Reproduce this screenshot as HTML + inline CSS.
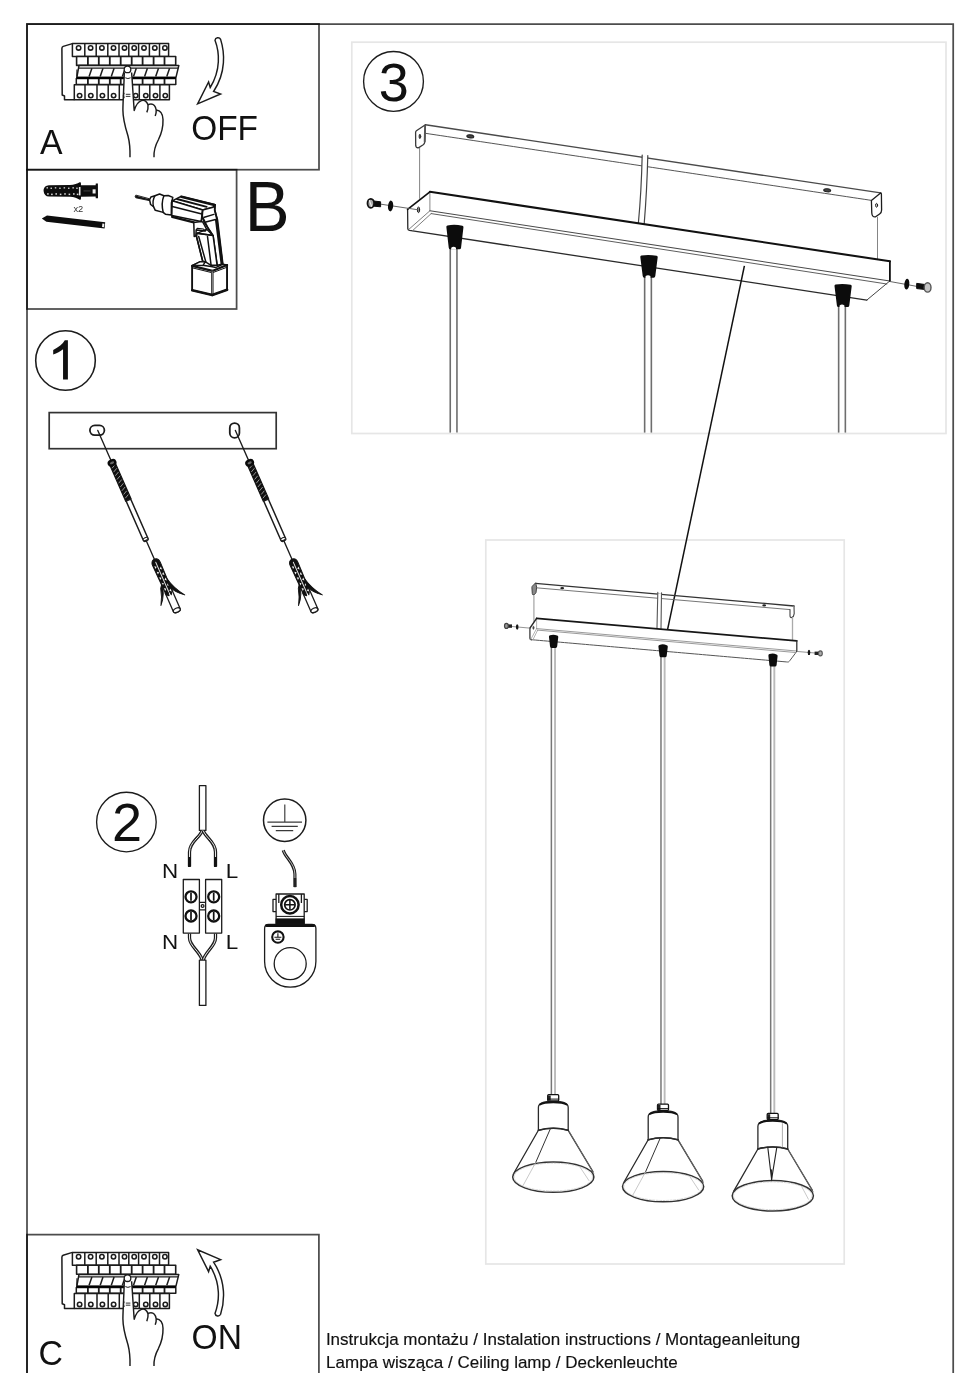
<!DOCTYPE html>
<html><head><meta charset="utf-8"><title>Instrukcja</title>
<style>html,body{margin:0;padding:0;background:#fff}svg{display:block;will-change:transform}text{font-family:"Liberation Sans",sans-serif}</style></head>
<body>
<svg width="970" height="1373" viewBox="0 0 970 1373">
<rect width="970" height="1373" fill="#fff"/>
<g fill="none" stroke="#000" stroke-opacity="0.7" stroke-width="1.75">
<path d="M27 1380V24H953.2V1380"/>
<rect x="27" y="24" width="292" height="145.7"/>
<rect x="27" y="169.7" width="209.6" height="139.3"/>
<path d="M27 1380V1234.6H318.9V1380"/>
</g>
<g fill="none" stroke="#e6e6e6" stroke-width="1.7">
<rect x="351.8" y="42.2" width="594.2" height="391.3"/>
<rect x="485.8" y="540" width="358.4" height="724"/>
</g>
<g transform="translate(0,0)" fill="#fff" stroke="#1c1c1c" stroke-width="1.5" stroke-linejoin="round">
<path d="M72.4 43.6 L63.2 46.4 Q61.9 46.9 61.9 48.4 L62.2 95 L64.5 96 V99.7 H74.4 V43.6Z" stroke="none"/>
<path d="M72.4 43.6 L63.2 46.4 Q61.9 46.9 61.9 48.4 L62.2 95 L64.5 96 V99.7 H74.4" fill="none"/>
<rect x="72.4" y="43.6" width="96.2" height="12.9"/>
<path d="M84.8 43.6V56.5"/>
<path d="M96.2 43.6V56.5"/>
<path d="M107.8 43.6V56.5"/>
<path d="M119 43.6V56.5"/>
<path d="M128.8 43.6V56.5"/>
<path d="M138.6 43.6V56.5"/>
<path d="M149.4 43.6V56.5"/>
<path d="M159.5 43.6V56.5"/>
<circle cx="78.6" cy="47.9" r="2.2" stroke-width="1.55"/>
<circle cx="90.6" cy="47.9" r="2.2" stroke-width="1.55"/>
<circle cx="101.9" cy="47.9" r="2.2" stroke-width="1.55"/>
<circle cx="113.5" cy="47.9" r="2.2" stroke-width="1.55"/>
<circle cx="124.5" cy="47.9" r="2.2" stroke-width="1.55"/>
<circle cx="134.2" cy="47.9" r="2.2" stroke-width="1.55"/>
<circle cx="144" cy="47.9" r="2.2" stroke-width="1.55"/>
<circle cx="154.8" cy="47.9" r="2.2" stroke-width="1.55"/>
<circle cx="164.9" cy="47.9" r="2.2" stroke-width="1.55"/>
<rect x="76.6" y="56.5" width="99.1" height="8.9" stroke-width="1.6"/>
<path d="M87.9 56.5V65.4" stroke-width="1.8"/>
<path d="M98.8 56.5V65.4" stroke-width="1.8"/>
<path d="M109.8 56.5V65.4" stroke-width="1.8"/>
<path d="M120.7 56.5V65.4" stroke-width="1.8"/>
<path d="M131.7 56.5V65.4" stroke-width="1.8"/>
<path d="M142.6 56.5V65.4" stroke-width="1.8"/>
<path d="M153.6 56.5V65.4" stroke-width="1.8"/>
<path d="M164.5 56.5V65.4" stroke-width="1.8"/>
<rect x="76.3" y="78.6" width="99.5" height="5.9" stroke-width="1.5"/>
<path d="M87.9 78.6V84.5" stroke-width="1.8"/>
<path d="M98.8 78.6V84.5" stroke-width="1.8"/>
<path d="M109.8 78.6V84.5" stroke-width="1.8"/>
<path d="M120.7 78.6V84.5" stroke-width="1.8"/>
<path d="M131.7 78.6V84.5" stroke-width="1.8"/>
<path d="M142.6 78.6V84.5" stroke-width="1.8"/>
<path d="M153.6 78.6V84.5" stroke-width="1.8"/>
<path d="M164.5 78.6V84.5" stroke-width="1.8"/>
<path d="M79 65.6H178.8L175.9 77.6H76.8Z" stroke-width="1.5"/>
<path d="M78.5 68.1H178.3" stroke-width="1.4"/>
<path d="M91.9 68.2L89.1 76.5" stroke-width="1.5"/>
<path d="M103.0 68.2L100.2 76.5" stroke-width="1.5"/>
<path d="M114.1 68.2L111.3 76.5" stroke-width="1.5"/>
<path d="M125.2 68.2L122.4 76.5" stroke-width="1.5"/>
<path d="M136.3 68.2L133.5 76.5" stroke-width="1.5"/>
<path d="M147.4 68.2L144.6 76.5" stroke-width="1.5"/>
<path d="M158.5 68.2L155.7 76.5" stroke-width="1.5"/>
<path d="M169.6 68.2L166.8 76.5" stroke-width="1.5"/>
<path d="M77 69.5L76.8 76.5" stroke-width="1.2"/>
<path d="M76.5 77.8H175.8" stroke-width="2.3" stroke="#000"/>
<rect x="74.3" y="84.8" width="95.1" height="14.9"/>
<path d="M85 84.8V99.7"/>
<path d="M97 84.8V99.7"/>
<path d="M108.2 84.8V99.7"/>
<path d="M119.3 84.8V99.7"/>
<path d="M129.8 84.8V99.7"/>
<path d="M139.3 84.8V99.7"/>
<path d="M149.8 84.8V99.7"/>
<path d="M159.9 84.8V99.7"/>
<circle cx="79.6" cy="95.6" r="2.2" stroke-width="1.55"/>
<circle cx="90.8" cy="95.6" r="2.2" stroke-width="1.55"/>
<circle cx="102.4" cy="95.6" r="2.2" stroke-width="1.55"/>
<circle cx="113.6" cy="95.6" r="2.2" stroke-width="1.55"/>
<circle cx="135.7" cy="95.6" r="2.2" stroke-width="1.55"/>
<circle cx="145.8" cy="95.6" r="2.2" stroke-width="1.55"/>
<circle cx="155.5" cy="95.6" r="2.2" stroke-width="1.55"/>
<circle cx="165.3" cy="95.6" r="2.2" stroke-width="1.55"/>
<path d="M124.3 72.5 C124 85 123 100 122.9 110 C122.9 120 125.5 128 128 136 C129.8 143 130.2 150 130 157.2 L154 157.2 C153.6 150 155.5 145 158.5 139.5 C162 132.5 163.2 126 163 119.5 C162.9 114 160.5 110.6 156.2 110 C155.5 106 153.5 103.8 150.5 104 C149.6 104 148.8 104.3 148 104.9 C147 101.5 144.5 99.6 141.5 100.6 C138.5 101.6 135.5 106 134.2 110.5 C133.4 100 132.6 85 131.6 72.5 Z" stroke="none"/>
<path d="M124.3 72.5 C124 85 123 100 122.9 110 C122.9 120 125.5 128 128 136 C129.8 143 130.2 150 130 157.2" fill="none" stroke-width="1.45"/>
<path d="M131.6 72.5 C132.6 85 133.4 100 134.2 110.5 C135.5 106 138.5 101.6 141.5 100.6 C144.5 99.6 147 101.5 148 104.9 C148.3 107.5 147.8 110 146.8 112.4" fill="none" stroke-width="1.45"/>
<path d="M148 104.9 C148.8 104.3 149.6 104 150.5 104 C153.5 103.8 155.5 106 156.2 110 C156.4 112.5 156 114 155.2 116" fill="none" stroke-width="1.45"/>
<path d="M156.2 110 C160.5 110.6 162.9 114 163 119.5 C163.2 126 162 132.5 158.5 139.5 C155.5 145 153.6 150 154 157.2" fill="none" stroke-width="1.45"/>
<path d="M125.3 77.8 Q127.8 79.3 130.6 77.8" fill="none" stroke-width="1"/>
<path d="M125.8 94.3H130.4M125.8 96.4H130.4" stroke-width="0.9"/>
<path d="M124.2 92.7 Q122.6 95.4 124.2 98.3" fill="none" stroke-width="1.1"/>
<circle cx="127.5" cy="69.4" r="3.3" stroke-width="1.3"/>
</g>
<g transform="translate(0,1208.8)" fill="#fff" stroke="#1c1c1c" stroke-width="1.5" stroke-linejoin="round">
<path d="M72.4 43.6 L63.2 46.4 Q61.9 46.9 61.9 48.4 L62.2 95 L64.5 96 V99.7 H74.4 V43.6Z" stroke="none"/>
<path d="M72.4 43.6 L63.2 46.4 Q61.9 46.9 61.9 48.4 L62.2 95 L64.5 96 V99.7 H74.4" fill="none"/>
<rect x="72.4" y="43.6" width="96.2" height="12.9"/>
<path d="M84.8 43.6V56.5"/>
<path d="M96.2 43.6V56.5"/>
<path d="M107.8 43.6V56.5"/>
<path d="M119 43.6V56.5"/>
<path d="M128.8 43.6V56.5"/>
<path d="M138.6 43.6V56.5"/>
<path d="M149.4 43.6V56.5"/>
<path d="M159.5 43.6V56.5"/>
<circle cx="78.6" cy="47.9" r="2.2" stroke-width="1.55"/>
<circle cx="90.6" cy="47.9" r="2.2" stroke-width="1.55"/>
<circle cx="101.9" cy="47.9" r="2.2" stroke-width="1.55"/>
<circle cx="113.5" cy="47.9" r="2.2" stroke-width="1.55"/>
<circle cx="124.5" cy="47.9" r="2.2" stroke-width="1.55"/>
<circle cx="134.2" cy="47.9" r="2.2" stroke-width="1.55"/>
<circle cx="144" cy="47.9" r="2.2" stroke-width="1.55"/>
<circle cx="154.8" cy="47.9" r="2.2" stroke-width="1.55"/>
<circle cx="164.9" cy="47.9" r="2.2" stroke-width="1.55"/>
<rect x="76.6" y="56.5" width="99.1" height="8.9" stroke-width="1.6"/>
<path d="M87.9 56.5V65.4" stroke-width="1.8"/>
<path d="M98.8 56.5V65.4" stroke-width="1.8"/>
<path d="M109.8 56.5V65.4" stroke-width="1.8"/>
<path d="M120.7 56.5V65.4" stroke-width="1.8"/>
<path d="M131.7 56.5V65.4" stroke-width="1.8"/>
<path d="M142.6 56.5V65.4" stroke-width="1.8"/>
<path d="M153.6 56.5V65.4" stroke-width="1.8"/>
<path d="M164.5 56.5V65.4" stroke-width="1.8"/>
<rect x="76.3" y="78.6" width="99.5" height="5.9" stroke-width="1.5"/>
<path d="M87.9 78.6V84.5" stroke-width="1.8"/>
<path d="M98.8 78.6V84.5" stroke-width="1.8"/>
<path d="M109.8 78.6V84.5" stroke-width="1.8"/>
<path d="M120.7 78.6V84.5" stroke-width="1.8"/>
<path d="M131.7 78.6V84.5" stroke-width="1.8"/>
<path d="M142.6 78.6V84.5" stroke-width="1.8"/>
<path d="M153.6 78.6V84.5" stroke-width="1.8"/>
<path d="M164.5 78.6V84.5" stroke-width="1.8"/>
<path d="M79 65.6H178.8L175.9 77.6H76.8Z" stroke-width="1.5"/>
<path d="M78.5 68.1H178.3" stroke-width="1.4"/>
<path d="M91.9 68.2L89.1 76.5" stroke-width="1.5"/>
<path d="M103.0 68.2L100.2 76.5" stroke-width="1.5"/>
<path d="M114.1 68.2L111.3 76.5" stroke-width="1.5"/>
<path d="M125.2 68.2L122.4 76.5" stroke-width="1.5"/>
<path d="M136.3 68.2L133.5 76.5" stroke-width="1.5"/>
<path d="M147.4 68.2L144.6 76.5" stroke-width="1.5"/>
<path d="M158.5 68.2L155.7 76.5" stroke-width="1.5"/>
<path d="M169.6 68.2L166.8 76.5" stroke-width="1.5"/>
<path d="M77 69.5L76.8 76.5" stroke-width="1.2"/>
<path d="M76.5 77.8H175.8" stroke-width="2.3" stroke="#000"/>
<rect x="74.3" y="84.8" width="95.1" height="14.9"/>
<path d="M85 84.8V99.7"/>
<path d="M97 84.8V99.7"/>
<path d="M108.2 84.8V99.7"/>
<path d="M119.3 84.8V99.7"/>
<path d="M129.8 84.8V99.7"/>
<path d="M139.3 84.8V99.7"/>
<path d="M149.8 84.8V99.7"/>
<path d="M159.9 84.8V99.7"/>
<circle cx="79.6" cy="95.6" r="2.2" stroke-width="1.55"/>
<circle cx="90.8" cy="95.6" r="2.2" stroke-width="1.55"/>
<circle cx="102.4" cy="95.6" r="2.2" stroke-width="1.55"/>
<circle cx="113.6" cy="95.6" r="2.2" stroke-width="1.55"/>
<circle cx="135.7" cy="95.6" r="2.2" stroke-width="1.55"/>
<circle cx="145.8" cy="95.6" r="2.2" stroke-width="1.55"/>
<circle cx="155.5" cy="95.6" r="2.2" stroke-width="1.55"/>
<circle cx="165.3" cy="95.6" r="2.2" stroke-width="1.55"/>
<path d="M124.3 72.5 C124 85 123 100 122.9 110 C122.9 120 125.5 128 128 136 C129.8 143 130.2 150 130 157.2 L154 157.2 C153.6 150 155.5 145 158.5 139.5 C162 132.5 163.2 126 163 119.5 C162.9 114 160.5 110.6 156.2 110 C155.5 106 153.5 103.8 150.5 104 C149.6 104 148.8 104.3 148 104.9 C147 101.5 144.5 99.6 141.5 100.6 C138.5 101.6 135.5 106 134.2 110.5 C133.4 100 132.6 85 131.6 72.5 Z" stroke="none"/>
<path d="M124.3 72.5 C124 85 123 100 122.9 110 C122.9 120 125.5 128 128 136 C129.8 143 130.2 150 130 157.2" fill="none" stroke-width="1.45"/>
<path d="M131.6 72.5 C132.6 85 133.4 100 134.2 110.5 C135.5 106 138.5 101.6 141.5 100.6 C144.5 99.6 147 101.5 148 104.9 C148.3 107.5 147.8 110 146.8 112.4" fill="none" stroke-width="1.45"/>
<path d="M148 104.9 C148.8 104.3 149.6 104 150.5 104 C153.5 103.8 155.5 106 156.2 110 C156.4 112.5 156 114 155.2 116" fill="none" stroke-width="1.45"/>
<path d="M156.2 110 C160.5 110.6 162.9 114 163 119.5 C163.2 126 162 132.5 158.5 139.5 C155.5 145 153.6 150 154 157.2" fill="none" stroke-width="1.45"/>
<path d="M125.3 77.8 Q127.8 79.3 130.6 77.8" fill="none" stroke-width="1"/>
<path d="M125.8 94.3H130.4M125.8 96.4H130.4" stroke-width="0.9"/>
<path d="M124.2 92.7 Q122.6 95.4 124.2 98.3" fill="none" stroke-width="1.1"/>
<circle cx="127.5" cy="69.4" r="3.3" stroke-width="1.3"/>
</g>
<path transform="" d="M215 40.3 C219.5 52 221 70 210.2 87.5 L208.6 82 L197.6 103.9 L220.6 94 L213.6 91.5 C226.4 72 224.6 52 220.6 39.4 A2.95 2.95 0 0 0 215 40.3 Z" fill="#fff" stroke="#1c1c1c" stroke-width="1.45" stroke-linejoin="miter"/>
<path transform="translate(0,1353.7) scale(1,-1)" d="M215 40.3 C219.5 52 221 70 210.2 87.5 L208.6 82 L197.6 103.9 L220.6 94 L213.6 91.5 C226.4 72 224.6 52 220.6 39.4 A2.95 2.95 0 0 0 215 40.3 Z" fill="#fff" stroke="#1c1c1c" stroke-width="1.45" stroke-linejoin="miter"/>
<text transform="translate(40,153.9) scale(1,1.04)" font-size="33.8" text-anchor="start" fill="#111" >A</text>
<text transform="translate(191.2,140.1) scale(1,1.06)" font-size="33.4" text-anchor="start" fill="#111" >OFF</text>
<text transform="translate(244.8,231.2) scale(1,1.05)" font-size="67.2" text-anchor="start" fill="#111" >B</text>
<text transform="translate(38.4,1364.9) scale(1,1.05)" font-size="33.8" text-anchor="start" fill="#111" >C</text>
<text transform="translate(191.6,1349.1) scale(1,1.05)" font-size="33.6" text-anchor="start" fill="#111" >ON</text>
<text transform="translate(325.9,1345.1) scale(1,1)" font-size="17" text-anchor="start" fill="#111" stroke="#111" stroke-width="0.15">Instrukcja montażu / Instalation instructions / Montageanleitung</text>
<text transform="translate(326.1,1367.6) scale(1,1)" font-size="17" text-anchor="start" fill="#111" stroke="#111" stroke-width="0.15">Lampa wisząca / Ceiling lamp / Deckenleuchte</text>
<g>
<path d="M43.6 191 C43.4 187.6 45.8 185.4 49 185.3 L70 185 C74 184.8 77.6 183.6 79.6 182.2 L80.9 182.4 L81 185.2 L95.6 185.2 L95.8 183.6 L97.9 183.6 L98 198.2 L95.8 198.2 L95.6 196.6 L81 196.8 L80.9 199.6 L79.6 199.8 C77.6 198.4 74 197 70 196.8 L49 196.6 C45.8 196.5 43.8 194.4 43.6 191Z" fill="#0d0d0d"/>
<rect x="46.5" y="187.2" width="1.5" height="1.3" fill="#d8d8d8"/>
<rect x="47.1" y="193.2" width="1.6" height="1.5" fill="#d8d8d8"/>
<rect x="50.5" y="187.6" width="1.5" height="1.3" fill="#d8d8d8"/>
<rect x="51.1" y="193.6" width="1.6" height="1.5" fill="#d8d8d8"/>
<rect x="54.8" y="187.2" width="1.5" height="1.3" fill="#d8d8d8"/>
<rect x="55.4" y="193.2" width="1.6" height="1.5" fill="#d8d8d8"/>
<rect x="59.2" y="187.6" width="1.5" height="1.3" fill="#d8d8d8"/>
<rect x="59.800000000000004" y="193.6" width="1.6" height="1.5" fill="#d8d8d8"/>
<rect x="63.6" y="187.2" width="1.5" height="1.3" fill="#d8d8d8"/>
<rect x="64.2" y="193.2" width="1.6" height="1.5" fill="#d8d8d8"/>
<rect x="68" y="187.6" width="1.5" height="1.3" fill="#d8d8d8"/>
<rect x="68.6" y="193.6" width="1.6" height="1.5" fill="#d8d8d8"/>
<rect x="72.4" y="187.2" width="1.5" height="1.3" fill="#d8d8d8"/>
<rect x="73.0" y="193.2" width="1.6" height="1.5" fill="#d8d8d8"/>
<rect x="76.2" y="187.6" width="1.5" height="1.3" fill="#d8d8d8"/>
<rect x="76.8" y="193.6" width="1.6" height="1.5" fill="#d8d8d8"/>
<rect x="78.9" y="187" width="1.6" height="8.4" fill="#e8e8e8"/>
<rect x="92.6" y="189.3" width="3" height="4.2" fill="#eee"/>
<rect x="83.5" y="190.2" width="7" height="1.4" fill="#333"/>
</g>
<text x="73.4" y="211.8" font-size="9.3" fill="#333">x2</text>
<path d="M41.8 218.6 L47 215.4 L105.2 222.2 L104.6 228.6 L46.4 221.8 Z" fill="#0d0d0d"/>
<path d="M102.4 223.4 L104.4 223.7 L104 227.2 L102 227 Z" fill="#f2f2f2"/>
<g fill="#fff" stroke="#111" stroke-width="1.5" stroke-linejoin="round" stroke-linecap="round">
<path d="M135.6 195.4 Q134.6 196.6 135.8 197.8 L149.4 200.6 L149.6 199.2 Z" fill="#111" stroke-width="0.9"/>
<path d="M149.6 199.8 L150.9 197 L154.9 195.8 L159.6 194 L163.9 195.8 L168.2 195.5 L172.8 197.4 L171.4 203 L171.3 215 L165.4 214.2 L163.2 212.4 L155.3 210.3 L153.5 206.6 L150.6 204.5 Z"/>
<path d="M154.9 195.8 C152.9 199 152.7 203 153.5 206.6" fill="none" stroke-width="1.4"/>
<path d="M163.9 195.8 C161.8 201 161.9 207 163.2 212.4" fill="none" stroke-width="1.5"/>
<path d="M172.2 200.8 L181 196.4 L215.1 204.8 L213.1 207.2 L202.7 210 Z"/>
<path d="M181.4 196.8 L214.6 205" fill="none" stroke-width="2.6"/>
<path d="M177 199 L206.7 206.8" fill="none" stroke-width="1.9"/>
<path d="M172.2 200.8 L202.7 210 L201.1 221.6 L171.8 215.6 Z"/>
<path d="M172.2 206.4 L201.9 214" fill="none" stroke-width="1.5"/>
<path d="M172.2 216.8 L193.8 222.4" fill="none" stroke-width="2.4"/>
<path d="M202.7 210 L213.1 207.2 L215.1 204.8 L214.7 210 L217.5 219.6 L222.9 264 L217.2 265.2 L213.1 235.7 L208.3 228.5 L202.3 216.4 Z"/>
<path d="M204.3 217.2 L213.9 214.4 M205.9 222 L215.5 219.6" fill="none" stroke-width="1.5"/>
<path d="M202.7 210 C201.6 214 202 218 204 222 L208.3 228.5 L213.1 235.7" fill="none" stroke-width="1.5"/>
<path d="M216.4 220.4 L221.9 263.6" fill="none" stroke-width="2.8"/>
<path d="M214.9 205.6 L214.7 210 L216.8 218.6" fill="none" stroke-width="1.8"/>
<path d="M193.8 222.4 L194.2 236.5 L195.8 236.1 L196.2 230 L205.1 230.9 L206.7 229.3 L202.7 222 L201.1 221.6 Z"/>
<path d="M196.2 230 L197.2 228.4 L203.4 229 L205.1 230.9" fill="none" stroke-width="1.1"/>
<path d="M196.6 237 L202.7 261.3 L205.9 262.1 L211.1 265.3 L217.1 265.3 L213.1 235.7 L211.5 235.3 L197 233.3 Z"/>
<path d="M197 233.3 L211.5 235.3" fill="none" stroke-width="1.6"/>
<path d="M196.6 237 L202.7 261.3 M198.7 236.5 L205.9 262.1" fill="none" stroke-width="1.5"/>
<path d="M207.5 236.5 L211.1 265.3" fill="none" stroke-width="1.5"/>
<path d="M197 233.3 L206.7 229.3 L213.1 235.7" fill="none" stroke-width="1.3"/>
<path d="M192.2 265.7 L200.3 261.7 L205.1 262.1 L202.7 265.3 L211 266.6 L216 267.4 L222.7 264.2 L227.1 264.9 L227.1 289.8 L212.3 295 L192.2 290.2 Z"/>
<path d="M193 265.2 L200.3 261.7 L205.1 262.1 L202.7 265.5 Z" fill="#fff" stroke-width="1.3"/>
<path d="M192.2 265.9 L212.3 270.9 L227.1 265.1" fill="none" stroke-width="2.2"/>
<path d="M193 268 L211.6 272.6 M213.4 272.4 L226.6 267.4" fill="none" stroke-width="1"/>
<path d="M212.3 271 V295" fill="none" stroke-width="2.6" stroke="#333"/>
<path d="M212.3 272 V294" fill="none" stroke-width="0.7" stroke="#bbb"/>
<path d="M192.2 290.2 L212.3 295 L227.1 289.8" fill="none" stroke-width="2.6"/>
<path d="M192.2 265.7 V290.2 M227.1 264.9 V289.8" fill="none" stroke-width="1.7"/>
</g>
<circle cx="65.5" cy="360.5" r="29.8" fill="#fff" stroke="#1c1c1c" stroke-width="1.55"/>
<path d="M67.9 379.5H63.05V349.2C60.5 351.4 56.8 353.4 53.2 354.6V350C58.6 347.4 62.8 344 64.8 340.3H67.9Z" fill="#111"/>
<rect x="49.2" y="412.6" width="227" height="36.1" fill="#fff" stroke="#333" stroke-width="1.7"/>
<rect x="89.9" y="425.4" width="14.5" height="9.8" rx="4.9" fill="#fff" stroke="#1c1c1c" stroke-width="1.8"/>
<rect x="229.8" y="423.1" width="9.6" height="14.7" rx="4.8" fill="#fff" stroke="#1c1c1c" stroke-width="1.8"/>
<g transform="translate(97.8,430.4) rotate(-23.72)" stroke-linejoin="round" stroke-linecap="round">
<path d="M0 0 V142" stroke="#1c1c1c" stroke-width="1.35" fill="none"/>
<path d="M-2.9 36 L-2.9 76 L2.9 76 L2.9 36 Z" fill="#111" stroke="#111" stroke-width="1.2"/>
<path d="M-1.8 40.2 L1.8 38.4" stroke="#bbb" stroke-width="0.7"/>
<path d="M-1.8 44.3 L1.8 42.5" stroke="#bbb" stroke-width="0.7"/>
<path d="M-1.8 48.4 L1.8 46.6" stroke="#bbb" stroke-width="0.7"/>
<path d="M-1.8 52.5 L1.8 50.7" stroke="#bbb" stroke-width="0.7"/>
<path d="M-1.8 56.6 L1.8 54.8" stroke="#bbb" stroke-width="0.7"/>
<path d="M-1.8 60.7 L1.8 58.9" stroke="#bbb" stroke-width="0.7"/>
<path d="M-1.8 64.8 L1.8 63.0" stroke="#bbb" stroke-width="0.7"/>
<path d="M-1.8 68.9 L1.8 67.1" stroke="#bbb" stroke-width="0.7"/>
<path d="M-1.8 73.0 L1.8 71.2" stroke="#bbb" stroke-width="0.7"/>
<ellipse cx="0" cy="35.4" rx="3.4" ry="2.4" fill="#666" stroke="#0a0a0a" stroke-width="2.4"/>
<path d="M-2.5 76 V119.4 A2.5 1.3 0 0 0 2.5 119.4 V76 Z" fill="#fff" stroke="#1c1c1c" stroke-width="1.5"/>
<ellipse cx="0" cy="118.6" rx="2.5" ry="1.3" fill="#fff" stroke="#1c1c1c" stroke-width="1"/>
<path d="M-3.7 196.4 V176 L3.7 176 V196.4 A3.7 2.1 0 0 1 -3.7 196.4Z" fill="#fff" stroke="#1c1c1c" stroke-width="1.3"/>
<ellipse cx="0" cy="196.4" rx="3.7" ry="2.1" fill="#fff" stroke="#1c1c1c" stroke-width="1.2"/>
<path d="M0 140.6 C-3 140.8 -4.2 143 -4.2 146 L-3.6 178 L-1.2 180 L0 170 L1.2 180 L3.6 176 L4.2 146 C4.2 143 3 140.8 0 140.6Z" fill="#111" stroke="#111" stroke-width="1"/>
<path d="M-2.9 147 L-1 148.6 L-2.9 150.2Z M2.9 150 L1 151.6 L2.9 153.2Z" fill="#f4f4f4"/>
<path d="M-2.9 153 L-1 154.6 L-2.9 156.2Z M2.9 156 L1 157.6 L2.9 159.2Z" fill="#f4f4f4"/>
<path d="M-2.9 159 L-1 160.6 L-2.9 162.2Z M2.9 162 L1 163.6 L2.9 165.2Z" fill="#f4f4f4"/>
<path d="M-2.9 165 L-1 166.6 L-2.9 168.2Z M2.9 168 L1 169.6 L2.9 171.2Z" fill="#f4f4f4"/>
<path d="M-2.9 171 L-1 172.6 L-2.9 174.2Z M2.9 174 L1 175.6 L2.9 177.2Z" fill="#f4f4f4"/>
<path d="M0 144 V176" stroke="#e8e8e8" stroke-width="0.9"/>
<path d="M3.8 164 C5 170 8.4 178.6 13.4 185.6 C8.4 181.6 4.6 177 2.6 171.6Z" fill="#111" stroke="#111" stroke-width="0.9"/>
<path d="M-3 166 C-3.6 172 -7 180 -12.7 185.8 C-9.4 180.4 -7.4 175.6 -6 170Z" fill="#111" stroke="#111" stroke-width="0.9"/>
</g>
<g transform="translate(235.39999999999998,430.4) rotate(-23.72)" stroke-linejoin="round" stroke-linecap="round">
<path d="M0 0 V142" stroke="#1c1c1c" stroke-width="1.35" fill="none"/>
<path d="M-2.9 36 L-2.9 76 L2.9 76 L2.9 36 Z" fill="#111" stroke="#111" stroke-width="1.2"/>
<path d="M-1.8 40.2 L1.8 38.4" stroke="#bbb" stroke-width="0.7"/>
<path d="M-1.8 44.3 L1.8 42.5" stroke="#bbb" stroke-width="0.7"/>
<path d="M-1.8 48.4 L1.8 46.6" stroke="#bbb" stroke-width="0.7"/>
<path d="M-1.8 52.5 L1.8 50.7" stroke="#bbb" stroke-width="0.7"/>
<path d="M-1.8 56.6 L1.8 54.8" stroke="#bbb" stroke-width="0.7"/>
<path d="M-1.8 60.7 L1.8 58.9" stroke="#bbb" stroke-width="0.7"/>
<path d="M-1.8 64.8 L1.8 63.0" stroke="#bbb" stroke-width="0.7"/>
<path d="M-1.8 68.9 L1.8 67.1" stroke="#bbb" stroke-width="0.7"/>
<path d="M-1.8 73.0 L1.8 71.2" stroke="#bbb" stroke-width="0.7"/>
<ellipse cx="0" cy="35.4" rx="3.4" ry="2.4" fill="#666" stroke="#0a0a0a" stroke-width="2.4"/>
<path d="M-2.5 76 V119.4 A2.5 1.3 0 0 0 2.5 119.4 V76 Z" fill="#fff" stroke="#1c1c1c" stroke-width="1.5"/>
<ellipse cx="0" cy="118.6" rx="2.5" ry="1.3" fill="#fff" stroke="#1c1c1c" stroke-width="1"/>
<path d="M-3.7 196.4 V176 L3.7 176 V196.4 A3.7 2.1 0 0 1 -3.7 196.4Z" fill="#fff" stroke="#1c1c1c" stroke-width="1.3"/>
<ellipse cx="0" cy="196.4" rx="3.7" ry="2.1" fill="#fff" stroke="#1c1c1c" stroke-width="1.2"/>
<path d="M0 140.6 C-3 140.8 -4.2 143 -4.2 146 L-3.6 178 L-1.2 180 L0 170 L1.2 180 L3.6 176 L4.2 146 C4.2 143 3 140.8 0 140.6Z" fill="#111" stroke="#111" stroke-width="1"/>
<path d="M-2.9 147 L-1 148.6 L-2.9 150.2Z M2.9 150 L1 151.6 L2.9 153.2Z" fill="#f4f4f4"/>
<path d="M-2.9 153 L-1 154.6 L-2.9 156.2Z M2.9 156 L1 157.6 L2.9 159.2Z" fill="#f4f4f4"/>
<path d="M-2.9 159 L-1 160.6 L-2.9 162.2Z M2.9 162 L1 163.6 L2.9 165.2Z" fill="#f4f4f4"/>
<path d="M-2.9 165 L-1 166.6 L-2.9 168.2Z M2.9 168 L1 169.6 L2.9 171.2Z" fill="#f4f4f4"/>
<path d="M-2.9 171 L-1 172.6 L-2.9 174.2Z M2.9 174 L1 175.6 L2.9 177.2Z" fill="#f4f4f4"/>
<path d="M0 144 V176" stroke="#e8e8e8" stroke-width="0.9"/>
<path d="M3.8 164 C5 170 8.4 178.6 13.4 185.6 C8.4 181.6 4.6 177 2.6 171.6Z" fill="#111" stroke="#111" stroke-width="0.9"/>
<path d="M-3 166 C-3.6 172 -7 180 -12.7 185.8 C-9.4 180.4 -7.4 175.6 -6 170Z" fill="#111" stroke="#111" stroke-width="0.9"/>
</g>
<circle cx="126.4" cy="822" r="29.8" fill="#fff" stroke="#1c1c1c" stroke-width="1.35"/>
<text x="127" y="840.9" font-size="54" text-anchor="middle" fill="#111">2</text>
<rect x="199.4" y="785.6" width="6.5" height="44.8" fill="#fff" stroke="#1c1c1c" stroke-width="1.3" stroke-linejoin="round"/>
<path d="M202.2 830.6 C199.5 838 189.6 842 189.5 852 L189.5 866.4" fill="none" stroke="#1c1c1c" stroke-width="3.3" stroke-linecap="butt"/>
<path d="M202.2 830.6 C199.5 838 189.6 842 189.5 852 L189.5 866.4" fill="none" stroke="#fff" stroke-width="0.8999999999999999" stroke-linecap="butt"/>
<path d="M203.2 830.6 C206 838 215.4 842 215.5 852 L215.5 866.4" fill="none" stroke="#1c1c1c" stroke-width="3.3" stroke-linecap="butt"/>
<path d="M203.2 830.6 C206 838 215.4 842 215.5 852 L215.5 866.4" fill="none" stroke="#fff" stroke-width="0.8999999999999999" stroke-linecap="butt"/>
<path d="M189.4 857 V867 M215.4 857 V867" stroke="#111" stroke-width="2.7" fill="none"/>
<path d="M189.5 933.4 L189.5 938 C189.6 946 199.5 951 202.2 960" fill="none" stroke="#1c1c1c" stroke-width="3.3" stroke-linecap="butt"/>
<path d="M189.5 933.4 L189.5 938 C189.6 946 199.5 951 202.2 960" fill="none" stroke="#fff" stroke-width="0.8999999999999999" stroke-linecap="butt"/>
<path d="M215.5 933.4 L215.5 938 C215.4 946 206 951 203.2 960" fill="none" stroke="#1c1c1c" stroke-width="3.3" stroke-linecap="butt"/>
<path d="M215.5 933.4 L215.5 938 C215.4 946 206 951 203.2 960" fill="none" stroke="#fff" stroke-width="0.8999999999999999" stroke-linecap="butt"/>
<rect x="199.4" y="960.2" width="6.5" height="45.2" fill="#fff" stroke="#1c1c1c" stroke-width="1.3" stroke-linejoin="round"/>
<text transform="translate(161.9,878) scale(1.12,1)" font-size="20" fill="#111">N</text>
<text transform="translate(225.8,878) scale(1.12,1)" font-size="20" fill="#111">L</text>
<text transform="translate(161.9,948.9) scale(1.12,1)" font-size="20" fill="#111">N</text>
<text transform="translate(225.8,948.9) scale(1.12,1)" font-size="20" fill="#111">L</text>
<rect x="183.3" y="879.5" width="16.1" height="53.6" fill="#fff" stroke="#1c1c1c" stroke-width="1.3" stroke-linejoin="round" stroke-width="1.4"/>
<rect x="205.6" y="879.5" width="16.1" height="53.6" fill="#fff" stroke="#1c1c1c" stroke-width="1.3" stroke-linejoin="round" stroke-width="1.4"/>
<path d="M199.4 902.3 H205.6 M199.4 909.8 H205.6" fill="#fff" stroke="#1c1c1c" stroke-width="1.3" stroke-linejoin="round"/>
<circle cx="202.6" cy="906" r="1.4" fill="#fff" stroke="#1c1c1c" stroke-width="1.3" stroke-linejoin="round" stroke-width="1"/>
<circle cx="191" cy="896.8" r="5.5" fill="#fff" stroke="#111" stroke-width="2.3"/>
<path d="M191 892.8 V900.8" stroke="#111" stroke-width="1.7"/>
<circle cx="191" cy="916" r="5.5" fill="#fff" stroke="#111" stroke-width="2.3"/>
<path d="M191 912 V920" stroke="#111" stroke-width="1.7"/>
<circle cx="213.7" cy="896.8" r="5.5" fill="#fff" stroke="#111" stroke-width="2.3"/>
<path d="M213.7 892.8 V900.8" stroke="#111" stroke-width="1.7"/>
<circle cx="213.7" cy="916" r="5.5" fill="#fff" stroke="#111" stroke-width="2.3"/>
<path d="M213.7 912 V920" stroke="#111" stroke-width="1.7"/>
<circle cx="284.7" cy="820.2" r="21.2" fill="#fff" stroke="#1c1c1c" stroke-width="1.5"/>
<path d="M284.8 804.6 V822 M267.4 822.1 H302 M271.6 826.3 H297.8 M275.8 830.6 H293.2" stroke="#3a3a3a" stroke-width="1.15" fill="none"/>
<path d="M283.2 850.2 C285.5 858 294.6 863 294.9 874 L295 887" fill="none" stroke="#1c1c1c" stroke-width="3.1" stroke-linecap="butt"/>
<path d="M283.2 850.2 C285.5 858 294.6 863 294.9 874 L295 887" fill="none" stroke="#fff" stroke-width="0.7000000000000002" stroke-linecap="butt"/>
<path d="M295 878 V887.2" stroke="#222" stroke-width="2.4" fill="none"/>
<rect x="273" y="899.4" width="34.2" height="12.2" fill="#fff" stroke="#1c1c1c" stroke-width="1.3" stroke-linejoin="round" stroke-width="1.2"/>
<rect x="276.1" y="894" width="28.1" height="29.6" fill="#fff" stroke="#1c1c1c" stroke-width="1.3" stroke-linejoin="round" stroke-width="1.4"/>
<path d="M278.8 894V903 M301.4 894V903" fill="#fff" stroke="#1c1c1c" stroke-width="1.3" stroke-linejoin="round" stroke-width="1"/>
<circle cx="289.9" cy="904.8" r="8.7" fill="#fff" stroke="#111" stroke-width="2.5"/>
<circle cx="289.9" cy="904.8" r="5.2" fill="#fff" stroke="#111" stroke-width="1.7"/>
<path d="M289.9 900V909.6M285.1 904.8H294.7" stroke="#111" stroke-width="1.5"/>
<path d="M276.1 916.4H304.2" stroke="#111" stroke-width="1"/>
<rect x="275.6" y="918.4" width="29" height="6" fill="#111"/>
<path d="M264.6 928.6 Q264.6 924.4 268.6 924.4 H311.8 Q315.9 924.4 315.9 928.6 V961.6 A25.65 25.65 0 0 1 264.6 961.6 Z" fill="#fff" stroke="#1c1c1c" stroke-width="1.3" stroke-linejoin="round" stroke-width="1.6"/>
<path d="M266.4 925.6H314" stroke="#111" stroke-width="2.6" stroke-linecap="round"/>
<circle cx="290.2" cy="963.7" r="16" fill="#fff" stroke="#1c1c1c" stroke-width="1.3" stroke-linejoin="round" stroke-width="1.4"/>
<circle cx="277.9" cy="937.1" r="5.7" fill="#fff" stroke="#111" stroke-width="2.1"/>
<path d="M277.9 933.2V937.2M274.4 937.2H281.4M275.6 939.2H280.2" stroke="#111" stroke-width="1.1"/>
<circle cx="393.5" cy="81.4" r="29.9" fill="#fff" stroke="#1c1c1c" stroke-width="1.35"/>
<text x="393.8" y="100.8" font-size="54" text-anchor="middle" fill="#111">3</text>
<g fill="none" stroke="#1c1c1c" stroke-width="1.2" stroke-linejoin="round" stroke-linecap="round">
<path d="M425.4 124.8 L880.6 192.9" stroke-width="1.4" stroke="#4a4a4a"/>
<path d="M426 133.4 L871.6 200.4" stroke-width="1" stroke="#555" stroke-dasharray="3 0.7"/>
<path d="M425.4 124.8 L416.4 130.8 Q415.6 131.4 415.6 132.6 L415.7 145.4 Q416 148.4 418.8 147.6 L423.2 144.8 Q424.6 143.8 424.7 142 L425.4 124.8Z" fill="#fff" stroke="#3a3a3a" stroke-width="1.3"/>
<path d="M425.1 126 L424.7 141.6" stroke="#555" stroke-width="1.9"/>
<ellipse cx="419.9" cy="136.4" rx="0.8" ry="2.2" stroke="#333" stroke-width="1" fill="#555"/>
<path d="M880.6 192.9 L871.4 200.4 L871.8 213 Q872 217.4 875.6 216.8 L879.6 214 Q881.6 212.6 881.6 210 L881.4 194 Q881.4 193 880.6 192.9Z" fill="#fff" stroke-width="1.3"/>
<ellipse cx="876.6" cy="205.3" rx="1" ry="1.9" stroke-width="1" fill="#ddd"/>
<ellipse cx="470.3" cy="136.4" rx="3.5" ry="1.5" stroke="#222" stroke-width="1.1" fill="#444" transform="rotate(8 470.3 136.4)"/>
<ellipse cx="827.2" cy="190.3" rx="3.5" ry="1.5" stroke="#222" stroke-width="1.1" fill="#444" transform="rotate(8 827.2 190.3)"/>
<path d="M419.6 148.4 V198.4 M877.5 217.2 V258.6" stroke="#777" stroke-width="0.9"/>
<path d="M642.2 156 C641.6 180 640.6 200 638.4 222.8 L644.2 223.8 C646.2 200 647.2 180 647.8 157Z" fill="#fff" stroke="none"/>
<path d="M642.2 155 C641.6 180 640.6 200 638.4 222.8 M647.8 155.6 C647.2 180 646.2 200 644.2 223.6" stroke="#444" stroke-width="1.2"/>
<path d="M429.9 191.8 L889.9 261.3 L889.9 280.9 L866.8 300.1 L409.4 230.4 Q407.9 230.1 407.8 228.6 L407.6 209.4 Z" fill="#fff" stroke="none"/>
<path d="M407.6 209.4 L407.8 228.6 Q407.9 230.1 409.4 230.4 L866.8 300.1" stroke="#2a2a2a" stroke-width="1.3"/>
<path d="M866.8 300.1 L889.9 280.9" stroke="#444" stroke-width="1"/>
<path d="M429.9 191.8 V210.8" stroke="#888" stroke-width="1"/>
<path d="M429.9 210.8 L889.9 280.9" stroke="#4a4a4a" stroke-width="1.05"/>
<path d="M429.9 210.8 L409 229.2 M431.2 213.6 L412.6 230.6" stroke="#777" stroke-width="0.95"/>
<path d="M431.2 213.6 L886.8 284" stroke="#555" stroke-width="0.95"/>
<path d="M407.6 209.4 L429.9 191.8" stroke-width="1.7" stroke="#111"/>
<path d="M429.9 191.8 L889.9 261.3" stroke-width="2.1" stroke="#111"/>
<path d="M889.9 261.3 V280.9" stroke-width="1.8" stroke="#111"/>
<ellipse cx="418.5" cy="209.8" rx="1.1" ry="2.9" fill="#999" stroke="#222" stroke-width="1"/>
<path d="M381 204.2 L418 209.8 M890.4 281.6 L917 286.4" stroke="#555" stroke-width="0.9"/>
<ellipse cx="390.6" cy="206" rx="2.6" ry="5.4" fill="#0c0c0c" stroke="none" transform="rotate(6 390.6 206)"/>
<path d="M372 200.8 L380.6 201.8 L380.6 206.8 L372 206Z" fill="#0c0c0c" stroke="#0c0c0c" stroke-width="1"/>
<ellipse cx="370.8" cy="203.3" rx="3.3" ry="4.5" fill="#aaa" stroke="#111" stroke-width="1.8"/>
<path d="M369.4 200.6 L371.6 206.2" stroke="#eee" stroke-width="1.2"/>
<ellipse cx="906.8" cy="284.2" rx="2.5" ry="5.4" fill="#0c0c0c" stroke="none" transform="rotate(6 906.8 284.2)"/>
<path d="M917 283.4 L925.6 284.6 L925.6 289.6 L917 288.6Z" fill="#0c0c0c" stroke="#0c0c0c" stroke-width="1"/>
<ellipse cx="927.6" cy="287.4" rx="3.4" ry="4.7" fill="#c4c4c4" stroke="#555" stroke-width="1.4"/>
</g>
<rect x="450.25" y="247" width="6.7" height="185.60000000000002" fill="#fff" stroke="none"/>
<path d="M450.25 247V432.6" stroke="#6e6e6e" stroke-width="1.6" fill="none"/>
<path d="M456.95000000000005 247V432.6" stroke="#6e6e6e" stroke-width="1.6" fill="none"/>
<rect x="644.65" y="275" width="6.7" height="157.60000000000002" fill="#fff" stroke="none"/>
<path d="M644.65 275V432.6" stroke="#6e6e6e" stroke-width="1.6" fill="none"/>
<path d="M651.35 275V432.6" stroke="#6e6e6e" stroke-width="1.6" fill="none"/>
<rect x="838.65" y="304" width="6.7" height="128.60000000000002" fill="#fff" stroke="none"/>
<path d="M838.65 304V432.6" stroke="#6e6e6e" stroke-width="1.6" fill="none"/>
<path d="M845.35 304V432.6" stroke="#6e6e6e" stroke-width="1.6" fill="none"/>
<path d="M447.45 225.4 Q454.9 224.20000000000002 462.34999999999997 225.70000000000002 Q463.54999999999995 225.9 463.44999999999993 227.20000000000002 L461.04999999999995 247.70000000000002 Q460.84999999999997 249.3 459.44999999999993 249.3 L450.35 249.3 Q448.95 249.3 448.75 247.70000000000002 L446.35 227.0 Q446.25 225.6 447.45 225.4Z" fill="#0c0c0c"/>
<path d="M641.4000000000001 255.5 Q649.0 254.3 656.5999999999999 255.8 Q657.8 256.0 657.6999999999999 257.3 L655.3 276.09999999999997 Q655.0999999999999 277.7 653.6999999999999 277.7 L644.3000000000001 277.7 Q642.9000000000001 277.7 642.7 276.09999999999997 L640.3000000000001 257.1 Q640.2 255.7 641.4000000000001 255.5Z" fill="#0c0c0c"/>
<path d="M835.6 284.5 Q843.1 283.3 850.6 284.8 Q851.8000000000001 285.0 851.7 286.3 L849.3000000000001 305.4 Q849.1 307 847.7 307 L838.5 307 Q837.1 307 836.9 305.4 L834.5 286.1 Q834.4 284.7 835.6 284.5Z" fill="#0c0c0c"/>
<path d="M451.20000000000005 249.60000000000002 V247.70000000000002 Q453.6 245.9 456.0 247.70000000000002 V249.60000000000002Z" fill="#fff"/>
<path d="M645.6 278.0 V276.09999999999997 Q648 274.3 650.4 276.09999999999997 V278.0Z" fill="#fff"/>
<path d="M839.6 307.3 V305.4 Q842 303.6 844.4 305.4 V307.3Z" fill="#fff"/>
<path d="M744.4 265.8 L666.6 634.2" stroke="#111" stroke-width="1.5" fill="none"/>
<g fill="none" stroke="#1c1c1c" stroke-width="1.1" stroke-linejoin="round" stroke-linecap="round">
<path d="M535.4 583.3 L794 606" stroke-width="1.3" stroke="#333"/>
<path d="M536.2 587.8 L790 609.6" stroke-width="0.9" stroke="#666"/>
<path d="M535.4 583.1 L532.3 586.2 Q531.9 586.7 531.9 587.6 L532.3 593.6 Q532.8 595.8 534.2 594.8 L536 592.6 L536.6 587.6 Z" fill="#8a8a8a" stroke="#444" stroke-width="1"/>
<path d="M794 606 L794.2 613.6 Q794 616.6 791.6 617.6 Q790 617.8 790 615.4 L790 609.6" fill="#fff" stroke="#444" stroke-width="1.1"/>
<ellipse cx="562.2" cy="588.2" rx="1.9" ry="1.1" fill="#222" stroke="none"/>
<ellipse cx="764.2" cy="605.4" rx="1.9" ry="1.1" fill="#222" stroke="none"/>
<path d="M533.9 596 V621.6 M792.5 617.8 V640.2" stroke="#aaa" stroke-width="1.3"/>
<path d="M657.8 593.4 L657 628 L661 628.6 L661.5 593.6Z" fill="#fff" stroke="none"/>
<path d="M657.8 592.4 L657 628 M661.5 592.8 L661 628.4" stroke="#555" stroke-width="1.1"/>
<path d="M536.6 618.3 L796.8 640.9 V651.4 L788.6 662.1 L531.4 639.7 Q530 639.5 529.9 638.2 V628.2 Z" fill="#fff" stroke="none"/>
<path d="M529.9 628.2 V638.2 Q530 639.5 531.4 639.7" stroke="#555" stroke-width="1.5"/>
<path d="M531.4 639.7 L787.4 662 Q788.6 662.2 789.4 661.2 L796.8 651.4" stroke="#555" stroke-width="1" stroke-dasharray="3.4 0.8"/>
<path d="M536.6 618.3 V628.6 M536.6 628.6 L531 639 M537.6 630.2 L533 639.6" stroke="#aaa" stroke-width="0.9"/>
<path d="M536.6 628.6 L796.6 651 M537.4 630.1 L795.6 652.5" stroke="#888" stroke-width="0.85"/>
<path d="M529.9 628.2 L536.6 618.3" stroke-width="1.5" stroke="#2a2a2a"/>
<path d="M536.6 618.3 L796.8 640.9" stroke-width="1.7" stroke="#161616"/>
<path d="M796.8 640.9 V651.4" stroke-width="1.3" stroke="#333"/>
<ellipse cx="533.4" cy="627.8" rx="0.6" ry="1.7" fill="#444" stroke="#444" stroke-width="0.5"/>
<path d="M511 626.4 L529.6 628.1 M797.4 651.5 L815 653" stroke="#888" stroke-width="0.9"/>
<ellipse cx="517.2" cy="627" rx="1.3" ry="2.7" fill="#161616" stroke="none"/>
<rect x="507" y="624.4" width="5" height="3.4" fill="#222" stroke="none"/>
<ellipse cx="506.4" cy="625.9" rx="1.9" ry="2.5" fill="#999" stroke="#444" stroke-width="1.2"/>
<ellipse cx="809" cy="652.4" rx="1.3" ry="2.7" fill="#161616" stroke="none"/>
<rect x="814.6" y="651.6" width="5" height="3.4" fill="#222" stroke="none"/>
<ellipse cx="820.4" cy="653.4" rx="1.9" ry="2.5" fill="#aaa" stroke="#555" stroke-width="1.1"/>
</g>
<rect x="551.375" y="646" width="3.65" height="449" fill="#fff" stroke="none"/>
<path d="M551.375 646V1095" stroke="#777" stroke-width="1.5" fill="none"/>
<path d="M555.0250000000001 646V1095" stroke="#bbb" stroke-width="1.9" fill="none"/>
<rect x="660.9749999999999" y="655" width="3.65" height="449.79999999999995" fill="#fff" stroke="none"/>
<path d="M660.9749999999999 655V1104.8" stroke="#777" stroke-width="1.5" fill="none"/>
<path d="M664.625 655V1104.8" stroke="#bbb" stroke-width="1.9" fill="none"/>
<rect x="770.675" y="664" width="3.65" height="451" fill="#fff" stroke="none"/>
<path d="M770.675 664V1115" stroke="#777" stroke-width="1.5" fill="none"/>
<path d="M774.325 664V1115" stroke="#bbb" stroke-width="1.9" fill="none"/>
<path d="M550.0500000000001 635.2 Q553.6 634.0 557.15 635.5 Q558.35 635.7 558.25 637.0 L557.2 646.3 Q557.0 647.9 555.6 647.9 L551.6 647.9 Q550.2 647.9 550.0 646.3 L548.95 636.8000000000001 Q548.85 635.4000000000001 550.0500000000001 635.2Z" fill="#0c0c0c"/>
<path d="M659.5000000000001 644.9 Q663.1 643.6999999999999 666.6999999999999 645.1999999999999 Q667.9 645.4 667.8 646.6999999999999 L666.7 655.6999999999999 Q666.5 657.3 665.1 657.3 L661.1 657.3 Q659.7 657.3 659.5 655.6999999999999 L658.4000000000001 646.5 Q658.3000000000001 645.1 659.5000000000001 644.9Z" fill="#0c0c0c"/>
<path d="M769.5 654.1 Q773.0 652.9 776.5 654.4 Q777.7 654.6 777.6 655.9 L776.6 664.9 Q776.4 666.5 775.0 666.5 L771.0 666.5 Q769.6 666.5 769.4 664.9 L768.4 655.7 Q768.3 654.3000000000001 769.5 654.1Z" fill="#0c0c0c"/>
<g fill="#fff" stroke="#2a2a2a" stroke-width="1.2" stroke-linejoin="round" stroke-linecap="round">
<path d="M538.4 1130.3 L514.3 1172.1 A40.6 15.2 0 0 0 592.6999999999999 1171.1 L568.1999999999999 1130.3 Q553.3 1126.3 538.4 1130.3Z" stroke="none"/>
<path d="M538.4 1130.3 L514.0999999999999 1172.6999999999998 M568.1999999999999 1130.3 L592.9 1171.6999999999998" stroke-width="1.3" fill="none"/>
<path d="M568.9999999999999 1131.3 L593.6999999999999 1173.1" stroke="#777" stroke-width="0.8" fill="none"/>
<ellipse cx="553.3" cy="1177.1" rx="40.6" ry="15.2" stroke-width="1.5" stroke="#333"/>
<ellipse cx="553.3" cy="1177.1" rx="39.2" ry="13.899999999999999" stroke-width="0.6" stroke="#bbb" fill="none" stroke-dasharray="2 1.5"/>
<path d="M538.4 1130.3 V1107.4999999999998 C538.4 1103.3 545.3 1101.3 553.3 1101.1999999999998 C561.3 1101.3 568.1999999999999 1103.3 568.1999999999999 1107.4999999999998 V1130.3 Q553.3 1126.1 538.4 1130.3Z" stroke-width="1.3"/>
<path d="M540.0 1104.4999999999998 C544.3 1101.3999999999999 562.3 1101.3999999999999 566.5999999999999 1104.4999999999998" stroke-width="1.9" stroke="#111" fill="none"/>
<path d="M538.4 1130.3 Q553.3 1126.1 568.1999999999999 1130.3" stroke-width="1.5" fill="none"/>
<rect x="547.6999999999999" y="1094.6999999999998" width="11" height="6.2" rx="1" stroke-width="1.3" stroke="#111"/>
<rect x="547.6999999999999" y="1095.4999999999998" width="3" height="5" fill="#222" stroke="none"/>
<path d="M547.9 1099.1H558.6999999999999" stroke-width="1" stroke="#111"/>
<path d="M550.3 1128.8999999999999 L535.6999999999999 1162.5" stroke="#333" stroke-width="1" fill="none"/>
<path d="M535.6999999999999 1162.5 L523.3 1185.1" stroke="#bbb" stroke-width="0.8" fill="none"/>
<path d="M580.3 1167.5 L588.9 1180.5" stroke="#bbb" stroke-width="0.8" fill="none"/>
</g>
<g fill="#fff" stroke="#2a2a2a" stroke-width="1.2" stroke-linejoin="round" stroke-linecap="round">
<path d="M648.2 1139.8 L624.1 1181.6 A40.6 15.2 0 0 0 702.5 1180.6 L678.0 1139.8 Q663.1 1135.8 648.2 1139.8Z" stroke="none"/>
<path d="M648.2 1139.8 L623.9 1182.1999999999998 M678.0 1139.8 L702.7 1181.1999999999998" stroke-width="1.3" fill="none"/>
<path d="M678.8 1140.8 L703.5 1182.6" stroke="#777" stroke-width="0.8" fill="none"/>
<ellipse cx="663.1" cy="1186.6" rx="40.6" ry="15.2" stroke-width="1.5" stroke="#333"/>
<ellipse cx="663.1" cy="1186.6" rx="39.2" ry="13.899999999999999" stroke-width="0.6" stroke="#bbb" fill="none" stroke-dasharray="2 1.5"/>
<path d="M648.2 1139.8 V1116.9999999999998 C648.2 1112.8 655.1 1110.8 663.1 1110.6999999999998 C671.1 1110.8 678.0 1112.8 678.0 1116.9999999999998 V1139.8 Q663.1 1135.6 648.2 1139.8Z" stroke-width="1.3"/>
<path d="M649.8000000000001 1113.9999999999998 C654.1 1110.8999999999999 672.1 1110.8999999999999 676.4 1113.9999999999998" stroke-width="1.9" stroke="#111" fill="none"/>
<path d="M648.2 1139.8 Q663.1 1135.6 678.0 1139.8" stroke-width="1.5" fill="none"/>
<rect x="657.5" y="1104.1999999999998" width="11" height="6.2" rx="1" stroke-width="1.3" stroke="#111"/>
<rect x="657.5" y="1104.9999999999998" width="3" height="5" fill="#222" stroke="none"/>
<path d="M657.7 1108.6H668.5" stroke-width="1" stroke="#111"/>
<path d="M660.1 1138.3999999999999 L645.5 1172.0" stroke="#333" stroke-width="1" fill="none"/>
<path d="M645.5 1172.0 L633.1 1194.6" stroke="#bbb" stroke-width="0.8" fill="none"/>
<path d="M690.1 1177.0 L698.7 1190.0" stroke="#bbb" stroke-width="0.8" fill="none"/>
</g>
<g fill="#fff" stroke="#2a2a2a" stroke-width="1.2" stroke-linejoin="round" stroke-linecap="round">
<path d="M757.9 1149.0 L733.8 1190.8 A40.6 15.2 0 0 0 812.1999999999999 1189.8 L787.6999999999999 1149.0 Q772.8 1145.0 757.9 1149.0Z" stroke="none"/>
<path d="M757.9 1149.0 L733.5999999999999 1191.3999999999999 M787.6999999999999 1149.0 L812.4 1190.3999999999999" stroke-width="1.3" fill="none"/>
<path d="M788.4999999999999 1150.0 L813.1999999999999 1191.8" stroke="#777" stroke-width="0.8" fill="none"/>
<ellipse cx="772.8" cy="1195.8" rx="40.6" ry="15.2" stroke-width="1.5" stroke="#333"/>
<ellipse cx="772.8" cy="1195.8" rx="39.2" ry="13.899999999999999" stroke-width="0.6" stroke="#bbb" fill="none" stroke-dasharray="2 1.5"/>
<path d="M757.9 1149.0 V1126.1999999999998 C757.9 1122.0 764.8 1120.0 772.8 1119.8999999999999 C780.8 1120.0 787.6999999999999 1122.0 787.6999999999999 1126.1999999999998 V1149.0 Q772.8 1144.8 757.9 1149.0Z" stroke-width="1.3"/>
<path d="M759.5 1123.1999999999998 C763.8 1120.1 781.8 1120.1 786.0999999999999 1123.1999999999998" stroke-width="1.9" stroke="#111" fill="none"/>
<path d="M757.9 1149.0 Q772.8 1144.8 787.6999999999999 1149.0" stroke-width="1.5" fill="none"/>
<rect x="767.1999999999999" y="1113.3999999999999" width="11" height="6.2" rx="1" stroke-width="1.3" stroke="#111"/>
<rect x="767.1999999999999" y="1114.1999999999998" width="3" height="5" fill="#222" stroke="none"/>
<path d="M767.4 1117.8H778.1999999999999" stroke-width="1" stroke="#111"/>
<path d="M767.8 1147.4 L771.5999999999999 1179.3999999999999 L776.8 1147.4" stroke="#222" stroke-width="1.1" fill="none"/>
<path d="M771.5999999999999 1169.8 V1180.6" stroke="#222" stroke-width="1.1" fill="none"/>
<path d="M782.4 1123.6 V1147.0" stroke="#999" stroke-width="0.8" fill="none"/>
<path d="M801.8 1186.8 L808.4 1199.2" stroke="#bbb" stroke-width="0.8" fill="none"/>
</g>
</svg>
</body></html>
